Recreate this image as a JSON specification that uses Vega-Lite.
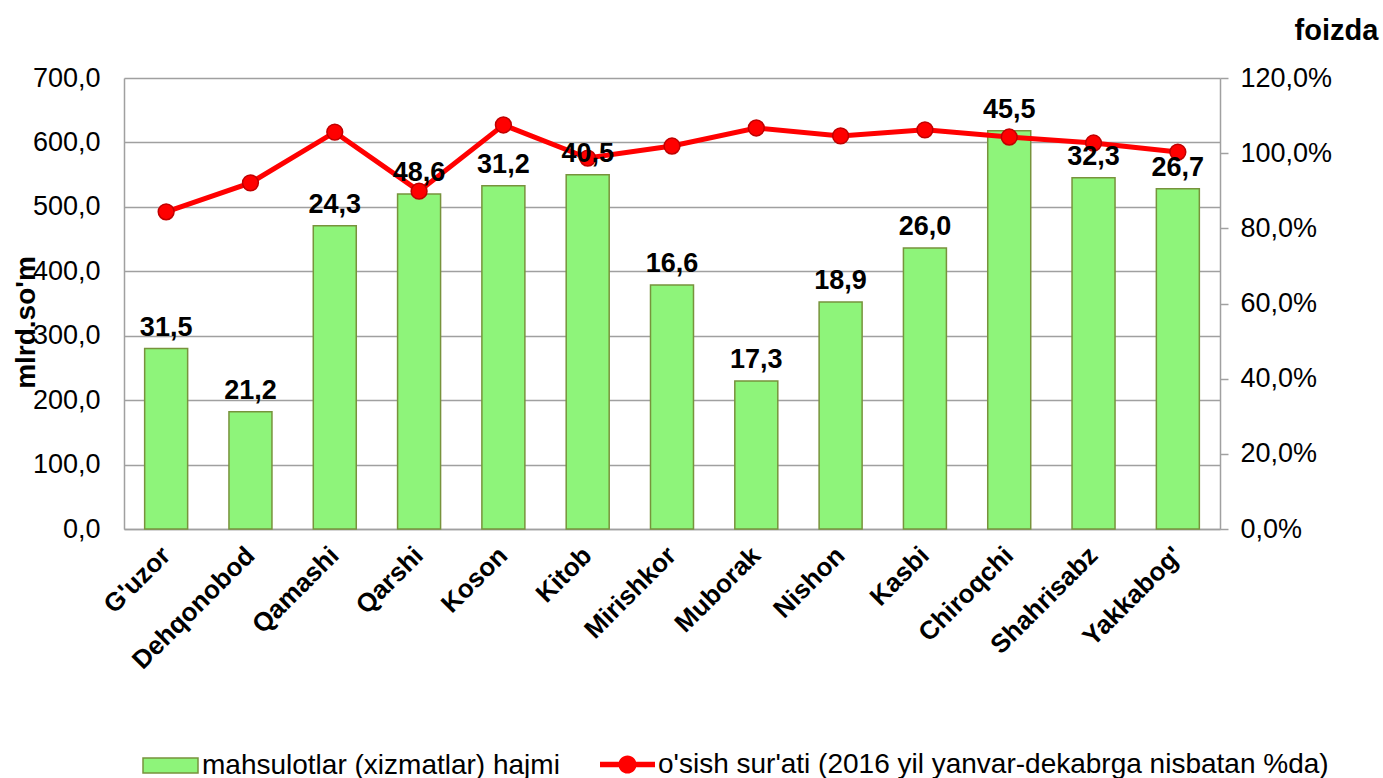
{
  "$schema": "https://vega.github.io/schema/vega-lite/v6.json",
  "autosize": {"type": "none"},
  "padding": {"left": 124, "top": 78, "right": 163, "bottom": 249},
  "width": 1096,
  "height": 451,
  "background": "white",
  "data": {
    "values": [
      {"tuman": "G'uzor", "hajm": 280, "osish": 84.4, "ulush": "31,5"},
      {"tuman": "Dehqonobod", "hajm": 182, "osish": 92.1, "ulush": "21,2"},
      {"tuman": "Qamashi", "hajm": 470.5, "osish": 105.6, "ulush": "24,3"},
      {"tuman": "Qarshi", "hajm": 520, "osish": 89.9, "ulush": "48,6"},
      {"tuman": "Koson", "hajm": 532.6, "osish": 107.5, "ulush": "31,2"},
      {"tuman": "Kitob", "hajm": 549.7, "osish": 98.7, "ulush": "40,5"},
      {"tuman": "Mirishkor", "hajm": 378.9, "osish": 101.9, "ulush": "16,6"},
      {"tuman": "Muborak", "hajm": 229.8, "osish": 106.7, "ulush": "17,3"},
      {"tuman": "Nishon", "hajm": 352.5, "osish": 104.6, "ulush": "18,9"},
      {"tuman": "Kasbi", "hajm": 436.3, "osish": 106.2, "ulush": "26,0"},
      {"tuman": "Chiroqchi", "hajm": 618, "osish": 104.3, "ulush": "45,5"},
      {"tuman": "Shahrisabz", "hajm": 545, "osish": 102.7, "ulush": "32,3"},
      {"tuman": "Yakkabog'", "hajm": 528, "osish": 100.3, "ulush": "26,7"}
    ]
  },
  "encoding": {
    "x": {
      "field": "tuman",
      "type": "nominal",
      "sort": null,
      "scale": {"paddingInner": 0.49, "paddingOuter": 0.245},
      "axis": {
        "title": null,
        "labelAngle": -45,
        "labelAlign": "right",
        "labelBaseline": "middle",
        "labelPadding": 22,
        "labelFont": "Liberation Sans",
        "labelFontWeight": "bold",
        "labelFontSize": 26,
        "labelColor": "#000000",
        "ticks": false,
        "domainColor": "#A0A0A0",
        "domainWidth": 1.5,
        "grid": false
      }
    }
  },
  "layer": [
    {
      "mark": {"type": "bar", "stroke": "#77933C", "strokeWidth": 1.5},
      "encoding": {
        "y": {
          "field": "hajm",
          "type": "quantitative",
          "scale": {"domain": [0, 700], "nice": false},
          "axis": {
            "values": [0, 100, 200, 300, 400, 500, 600, 700],
            "labelExpr": "replace(format(datum.value, '.1f'), '.', ',')",
            "labelFont": "Liberation Sans",
            "labelFontSize": 27,
            "labelColor": "#000000",
            "labelPadding": 24,
            "ticks": false,
            "grid": true,
            "gridColor": "#A0A0A0",
            "gridWidth": 1.5,
            "domainColor": "#A0A0A0",
            "domainWidth": 1.5,
            "title": "mlrd.so'm",
            "titleFont": "Liberation Sans",
            "titleFontSize": 28,
            "titleFontWeight": "bold",
            "titleColor": "#000000",
            "titleAngle": -90,
            "titleX": -98,
            "titleY": 244,
            "titleAlign": "center",
            "titleBaseline": "middle"
          }
        },
        "fill": {
          "datum": "mahsulotlar (xizmatlar) hajmi",
          "type": "nominal",
          "scale": {"range": ["#8EF47A"]},
          "legend": {
            "orient": "none",
            "legendX": 18,
            "legendY": 659,
            "title": null,
            "padding": 0,
            "symbolType": "M-1,-0.27H1V0.27H-1Z",
            "symbolSize": 3025,
            "symbolStrokeColor": "#77933C",
            "symbolStrokeWidth": 1.5,
            "labelFont": "Liberation Sans",
            "labelFontSize": 28,
            "labelColor": "#000000",
            "labelOffset": 3,
            "labelLimit": 700
          }
        }
      }
    },
    {
      "layer": [
        {
          "mark": {"type": "line", "strokeWidth": 5},
          "encoding": {
            "y": {"field": "osish", "type": "quantitative"},
            "stroke": {
              "datum": "o'sish sur'ati (2016 yil yanvar-dekabrga nisbatan %da)",
              "type": "nominal",
              "scale": {"range": ["#FF0000"]},
              "legend": {
                "orient": "none",
                "legendX": 476,
                "legendY": 659,
                "title": null,
                "padding": 0,
                "symbolType": "M-1,-0.1H1V0.1H-1Z M0.33,0A0.33,0.33,0,1,1,-0.33,0A0.33,0.33,0,1,1,0.33,0Z",
                "symbolSize": 3025,
                "symbolStrokeWidth": 0,
                "labelFont": "Liberation Sans",
                "labelFontSize": 28,
                "labelColor": "#000000",
                "labelOffset": 3,
                "labelLimit": 900,
                "encode": {"symbols": {"update": {"fill": {"value": "#FF0000"}, "stroke": {"value": "#C00000"}, "strokeWidth": {"value": 0}}}}
              }
            }
          }
        },
        {
          "mark": {"type": "point", "filled": true, "fill": "#FF0000", "stroke": "#C00000", "strokeWidth": 1.5, "size": 250, "opacity": 1},
          "encoding": {
            "y": {"field": "osish", "type": "quantitative"}
          }
        }
      ],
      "encoding": {
        "y": {
          "type": "quantitative",
          "scale": {"domain": [0, 120], "nice": false},
          "axis": {
            "orient": "right",
            "values": [0, 20, 40, 60, 80, 100, 120],
            "labelExpr": "replace(format(datum.value, '.1f'), '.', ',') + '%'",
            "labelFont": "Liberation Sans",
            "labelFontSize": 27,
            "labelColor": "#000000",
            "labelPadding": 12,
            "ticks": true,
            "tickSize": 8,
            "tickColor": "#A0A0A0",
            "tickWidth": 1.5,
            "grid": false,
            "domainColor": "#A0A0A0",
            "domainWidth": 1.5,
            "title": "foizda",
            "titleFont": "Liberation Sans",
            "titleFontSize": 29,
            "titleFontWeight": "bold",
            "titleColor": "#000000",
            "titleAngle": 0,
            "titleX": 116,
            "titleY": -48,
            "titleAlign": "center",
            "titleBaseline": "middle"
          }
        }
      }
    },
    {
      "mark": {"type": "text", "font": "Liberation Sans", "fontWeight": "bold", "fontSize": 27, "baseline": "alphabetic", "dy": -13, "color": "#000000"},
      "encoding": {
        "y": {"field": "hajm", "type": "quantitative", "scale": {"domain": [0, 700], "nice": false}, "axis": null},
        "text": {"field": "ulush", "type": "nominal"}
      }
    }
  ],
  "resolve": {"scale": {"y": "independent"}},
  "config": {"view": {"stroke": null}}
}
